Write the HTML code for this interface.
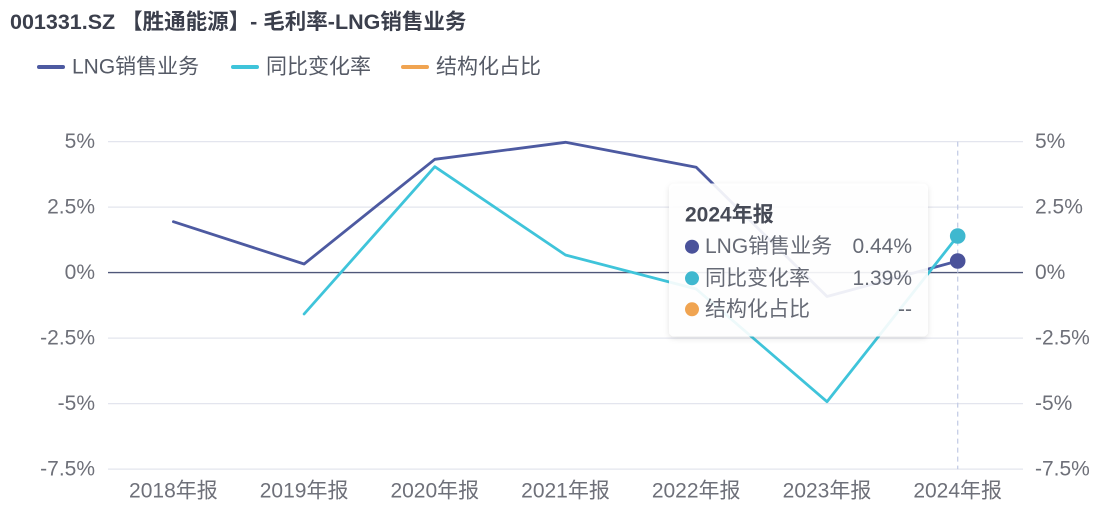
<!DOCTYPE html>
<html>
<head>
<meta charset="utf-8">
<style>
  html, body { margin:0; padding:0; background:#ffffff; }
  body { width:1113px; height:510px; overflow:hidden; }
  svg { display:block; }
  text { font-family: "Liberation Sans", "Noto Sans CJK SC", sans-serif; }
</style>
</head>
<body>
<svg width="1113" height="510" viewBox="0 0 1113 510" xmlns="http://www.w3.org/2000/svg">
  <defs>
    <filter id="sh" x="-10%" y="-10%" width="120%" height="130%">
      <feDropShadow dx="0" dy="2" stdDeviation="3" flood-color="#000" flood-opacity="0.12"/>
    </filter>
  </defs>

  <!-- Title -->
  <text x="10" y="29" font-size="21.5" font-weight="bold" fill="#3b3f4c">001331.SZ 【胜通能源】- 毛利率-LNG销售业务</text>

  <!-- Legend -->
  <line x1="39" y1="67" x2="63" y2="67" stroke="#4d5aa1" stroke-width="4" stroke-linecap="round"/>
  <text x="72" y="67" font-size="21" fill="#555a66" dominant-baseline="central">LNG销售业务</text>
  <line x1="233" y1="67" x2="257" y2="67" stroke="#3fc4da" stroke-width="4" stroke-linecap="round"/>
  <text x="266" y="67" font-size="21" fill="#555a66" dominant-baseline="central">同比变化率</text>
  <line x1="403" y1="67" x2="427" y2="67" stroke="#f0a451" stroke-width="4" stroke-linecap="round"/>
  <text x="436" y="67" font-size="21" fill="#555a66" dominant-baseline="central">结构化占比</text>

  <!-- Grid lines -->
  <g stroke="#e3e5ee" stroke-width="1.3">
    <line x1="108" y1="141.6" x2="1023" y2="141.6"/>
    <line x1="108" y1="207.1" x2="1023" y2="207.1"/>
    <line x1="108" y1="338.1" x2="1023" y2="338.1"/>
    <line x1="108" y1="403.6" x2="1023" y2="403.6"/>
    <line x1="108" y1="469.1" x2="1023" y2="469.1"/>
  </g>
  <!-- Zero line -->
  <line x1="108" y1="272.6" x2="1023" y2="272.6" stroke="#4f5779" stroke-width="1.4"/>

  <!-- Dashed pointer line -->
  <line x1="957.7" y1="141.6" x2="957.7" y2="469.1" stroke="#c5cde6" stroke-width="1.3" stroke-dasharray="5,4"/>

  <!-- Left axis labels -->
  <g font-size="21" fill="#6e7079" text-anchor="end" dominant-baseline="central">
    <text x="95" y="141.6">5%</text>
    <text x="95" y="207.1">2.5%</text>
    <text x="95" y="272.6">0%</text>
    <text x="95" y="338.1">-2.5%</text>
    <text x="95" y="403.6">-5%</text>
    <text x="95" y="469.1">-7.5%</text>
  </g>
  <!-- Right axis labels -->
  <g font-size="21" fill="#6e7079" text-anchor="start" dominant-baseline="central">
    <text x="1035" y="141.6">5%</text>
    <text x="1035" y="207.1">2.5%</text>
    <text x="1035" y="272.6">0%</text>
    <text x="1035" y="338.1">-2.5%</text>
    <text x="1035" y="403.6">-5%</text>
    <text x="1035" y="469.1">-7.5%</text>
  </g>

  <!-- X axis labels -->
  <g font-size="21" fill="#6e7079" text-anchor="middle" dominant-baseline="central">
    <text x="173.4" y="491">2018年报</text>
    <text x="304.1" y="491">2019年报</text>
    <text x="434.8" y="491">2020年报</text>
    <text x="565.5" y="491">2021年报</text>
    <text x="696.2" y="491">2022年报</text>
    <text x="827.0" y="491">2023年报</text>
    <text x="957.7" y="491">2024年报</text>
  </g>

  <!-- Series: LNG销售业务 -->
  <polyline fill="none" stroke="#4d5aa1" stroke-width="2.8" stroke-linejoin="round" stroke-linecap="round"
    points="173.4,221.7 304.1,264 434.8,159.3 565.5,142.3 696.2,167.2 827,296.5 957.7,261"/>
  <!-- Series: 同比变化率 -->
  <polyline fill="none" stroke="#3fc4da" stroke-width="2.8" stroke-linejoin="round" stroke-linecap="round"
    points="304.1,314 434.8,166.7 565.5,255 696.2,289 827,401.7 957.7,236"/>

  <!-- Highlight markers -->
  <circle cx="957.7" cy="236" r="7.8" fill="#3fb8cf"/>
  <circle cx="957.7" cy="261" r="7.8" fill="#4a529a"/>

  <!-- Tooltip -->
  <rect x="669" y="183.5" width="259" height="153" rx="5" ry="5" fill="#ffffff" fill-opacity="0.9" filter="url(#sh)"/>
  <text x="685" y="215" font-size="21" font-weight="bold" fill="#464a56" dominant-baseline="central">2024年报</text>
  <circle cx="692" cy="246.7" r="7" fill="#4a529a"/>
  <text x="705" y="246.7" font-size="21" fill="#666a75" dominant-baseline="central">LNG销售业务</text>
  <text x="912" y="246.7" font-size="21" fill="#666a75" text-anchor="end" dominant-baseline="central">0.44%</text>
  <circle cx="692" cy="278.3" r="7" fill="#3fb8cf"/>
  <text x="705" y="278.3" font-size="21" fill="#666a75" dominant-baseline="central">同比变化率</text>
  <text x="912" y="278.3" font-size="21" fill="#666a75" text-anchor="end" dominant-baseline="central">1.39%</text>
  <circle cx="692" cy="309.3" r="7" fill="#f0a451"/>
  <text x="705" y="309.3" font-size="21" fill="#666a75" dominant-baseline="central">结构化占比</text>
  <text x="912" y="309.3" font-size="21" fill="#666a75" text-anchor="end" dominant-baseline="central">--</text>
</svg>
</body>
</html>
